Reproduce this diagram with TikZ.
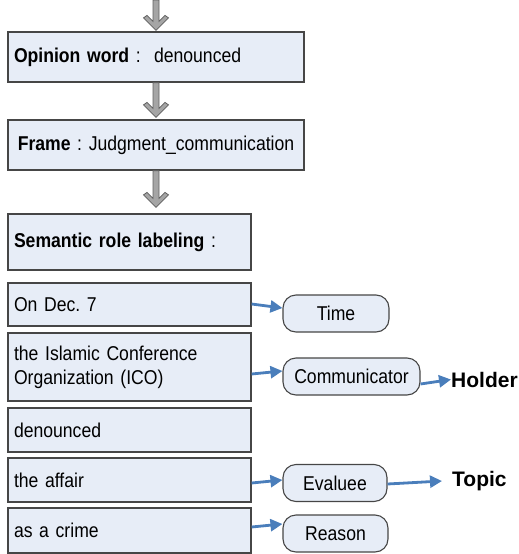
\documentclass[tikz,border=0pt]{standalone}
\usepackage{fontspec}
\setmainfont{Liberation Sans}[FakeStretch=0.88]
\newfontfamily\widefont{Liberation Sans}
\frenchspacing
\usetikzlibrary{arrows.meta,calc}
\definecolor{boxfill}{RGB}{231,237,247}
\definecolor{boxedge}{RGB}{70,70,70}
\definecolor{arrowgray}{RGB}{165,165,165}
\definecolor{arrowedge}{RGB}{95,95,95}
\definecolor{roleblue}{RGB}{74,126,187}
\newcommand\blockarrow[2]{%
  \path let \p1=(#1), \p2=(#2) in
    [fill=arrowgray, draw=arrowedge, line width=0.8pt, line join=miter]
    (\x1-3pt,\y1) -- (\x1-3pt,\y2+9pt) -- (\x1-9pt,\y2+15pt) -- (\x1-12.5pt,\y2+12.5pt)
    -- (\x1,\y2) -- (\x1+12.5pt,\y2+12.5pt) -- (\x1+9pt,\y2+15pt) -- (\x1+3pt,\y2+9pt)
    -- (\x1+3pt,\y1) -- cycle;}
\tikzset{
  mainbox/.style={draw=boxedge, fill=boxfill, line width=1.2pt, rectangle,
    inner xsep=5pt, inner ysep=0pt, align=left, font=\fontsize{20}{24}\selectfont\frenchspacing},
  narrowbox/.style={mainbox, minimum width=243pt, text width=231pt},
  widebox/.style={mainbox, minimum width=296pt, text width=284pt},
  rolebox/.style={draw=boxedge, fill=boxfill, line width=1.1pt, rounded corners=13pt,
    minimum height=37pt, inner sep=0pt, font=\fontsize{20}{24}\selectfont},
  rolearrow/.style={draw=roleblue, line width=2.8pt,
    -{Triangle[length=12pt,width=12pt]}, shorten >=0pt},
  result/.style={font=\widefont\bfseries\fontsize{21}{24}\selectfont, inner sep=0pt, anchor=west}
}
\begin{document}
\begin{tikzpicture}[x=1pt,y=-1pt]
\useasboundingbox (0,0) rectangle (519,554);
% main boxes
\node[widebox, minimum height=50pt] (op) at (156,57) {\textbf{Opinion word} :\ \ denounced};
\node[widebox, minimum height=50pt, align=center] (fr) at (156,145) {\textbf{Frame} : Judgment\_communication};
\node[narrowbox, minimum height=56pt] (srl) at (129.5,242) {\textbf{Semantic role labeling} :};
\node[narrowbox, minimum height=43pt] (b1) at (129.5,304.5) {On Dec. 7};
\node[narrowbox, minimum height=68pt] (b2) at (129.5,367) {the Islamic Conference\\Organization (ICO)};
\node[narrowbox, minimum height=44pt] (b3) at (129.5,430) {denounced};
\node[narrowbox, minimum height=44pt] (b4) at (129.5,480) {the affair};
\node[narrowbox, minimum height=45pt] (b5) at (129.5,530.5) {as a crime};
% role boxes
\node[rolebox, minimum width=106pt] (time) at (336,313.5) {Time};
\node[rolebox, minimum width=137pt] (comm) at (351.5,376.5) {Communicator};
\node[rolebox, minimum width=104pt] (eval) at (335,483) {Evaluee};
\node[rolebox, minimum width=105pt] (reason) at (335.5,533.5) {Reason};
% results
\node[result] (holder) at (451,379.5) {Holder};
\node[result] (topic) at (452,481) {Topic};
% gray block arrows
\coordinate (topstart) at (156,0);
\blockarrow{topstart}{[yshift=1pt]op.north}
\blockarrow{op.south}{[yshift=2pt]fr.north}
\blockarrow{fr.south}{[yshift=6pt]srl.north}
% blue arrows
\draw[rolearrow] ([yshift=0.5pt]b1.east) -- ([yshift=5.5pt]time.west);
\draw[rolearrow] ([yshift=-7pt]b2.east) -- ([yshift=5.5pt]comm.west);
\draw[rolearrow] ([yshift=-7.5pt]comm.east) -- (holder.west);
\draw[rolearrow] ([yshift=-3pt]b4.east) -- ([yshift=3pt]eval.west);
\draw[rolearrow] ([yshift=-1pt]eval.east) -- ([xshift=-10pt]topic.west);
\draw[rolearrow] ([yshift=3.5pt]b5.east) -- ([yshift=9.5pt]reason.west);
\end{tikzpicture}
\end{document}
